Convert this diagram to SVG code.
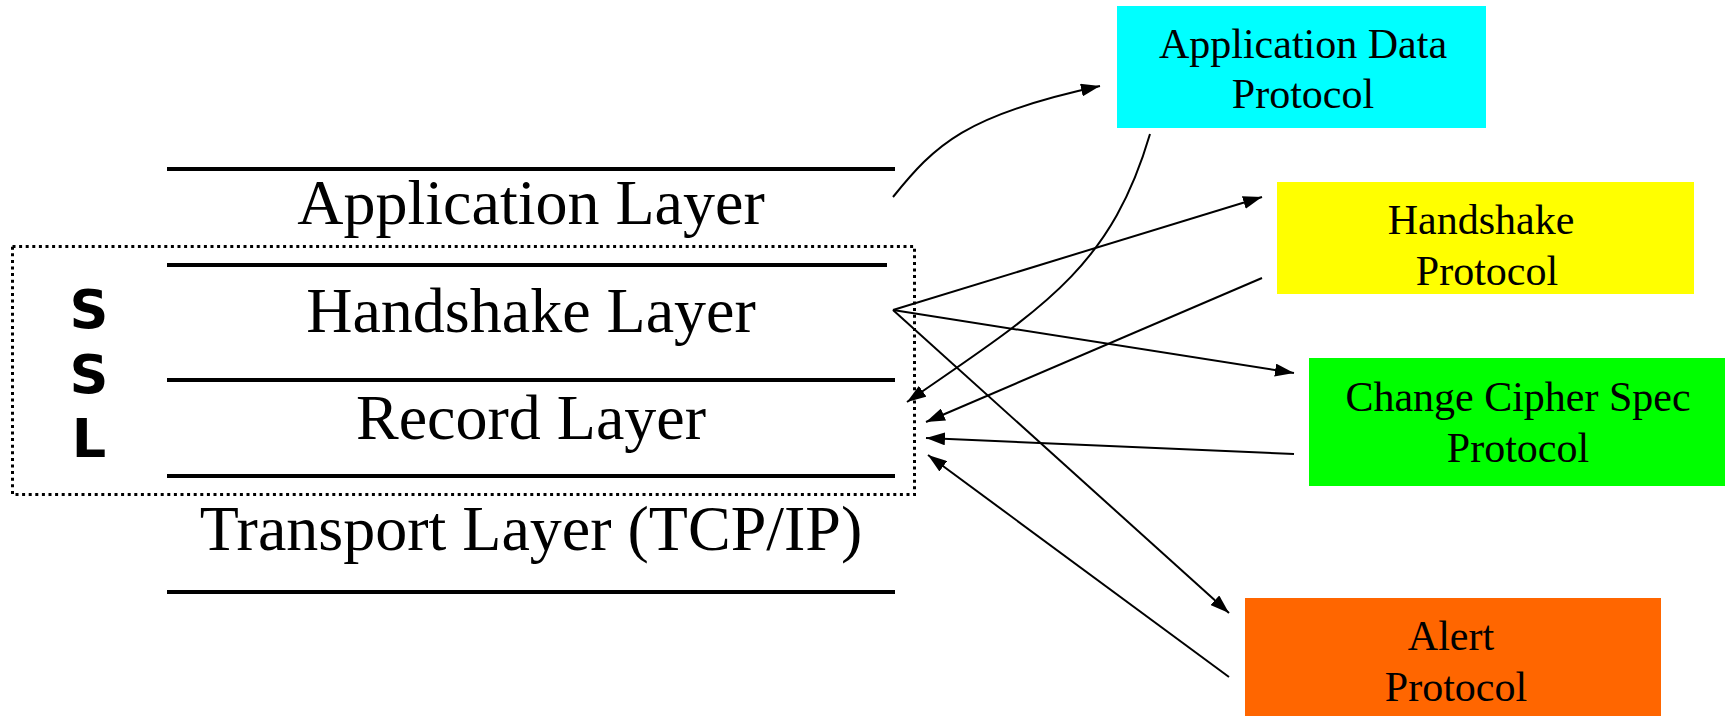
<svg xmlns="http://www.w3.org/2000/svg" width="1729" height="716" viewBox="0 0 1729 716">
<style>
.layer{stroke:#000;stroke-width:4;fill:none}
.big{font-family:"Liberation Serif","Times New Roman",serif;font-size:64px;fill:#000;text-anchor:middle}
.box{font-family:"Liberation Serif","Times New Roman",serif;font-size:42px;fill:#000;text-anchor:middle}
.ssl{font-family:"DejaVu Sans",Verdana,sans-serif;font-weight:bold;font-size:54px;fill:#000;text-anchor:middle}
.conn{stroke:#000;stroke-width:2;fill:none;marker-end:url(#arr)}
</style>
<defs>
<marker id="arr" markerUnits="userSpaceOnUse" markerWidth="19" markerHeight="13" refX="19" refY="6.5" orient="auto">
<path d="M0,0 L19,6.5 L0,13 z" fill="#000"/>
</marker>
</defs>
<rect width="1729" height="716" fill="#fff"/>
<g id="stack">
<line class="layer" x1="167" y1="169" x2="895" y2="169"/>
<line class="layer" x1="167" y1="265" x2="887" y2="265"/>
<line class="layer" x1="167" y1="380" x2="895" y2="380"/>
<line class="layer" x1="167" y1="476" x2="895" y2="476"/>
<line class="layer" x1="167" y1="592" x2="895" y2="592"/>
<rect x="12.5" y="246.5" width="902" height="248" fill="none" stroke="#000" stroke-width="3" stroke-dasharray="3 3.6"/>
</g>
<g id="application-layer"><text class="big" x="531" y="224">Application Layer</text></g>
<g id="handshake-layer"><text class="big" x="531" y="332">Handshake Layer</text></g>
<g id="record-layer"><text class="big" x="531" y="439">Record Layer</text></g>
<g id="transport-layer"><text class="big" x="531" y="550">Transport Layer (TCP/IP)</text></g>
<g id="ssl-label">
<text class="ssl" x="89" y="328">S</text>
<text class="ssl" x="89" y="393">S</text>
<text class="ssl" x="89" y="457">L</text>
</g>
<g id="app-data-protocol">
<rect x="1117" y="6" width="369" height="122" fill="#00FFFF"/>
<text class="box" x="1303" y="58">Application Data</text>
<text class="box" x="1303" y="108">Protocol</text>
</g>
<g id="handshake-protocol">
<rect x="1277" y="182" width="417" height="112" fill="#FFFF00"/>
<text class="box" x="1481" y="234">Handshake</text>
<text class="box" x="1487" y="285">Protocol</text>
</g>
<g id="ccs-protocol">
<rect x="1309" y="358" width="416" height="128" fill="#00FF00"/>
<text class="box" x="1518" y="411">Change Cipher Spec</text>
<text class="box" x="1518" y="462">Protocol</text>
</g>
<g id="alert-protocol">
<rect x="1245" y="598" width="416" height="118" fill="#FF6600"/>
<text class="box" x="1451" y="650">Alert</text>
<text class="box" x="1456" y="701">Protocol</text>
</g>
<g id="connectors">
<path class="conn" d="M893,197 C935,145 965,115 1100,86"/>
<path class="conn" d="M1150,134 C1110,270 1040,310 907,402"/>
<path class="conn" d="M893,310 L1262,197"/>
<path class="conn" d="M893,310 L1294,373"/>
<path class="conn" d="M893,310 L1229,613"/>
<path class="conn" d="M1262,278 L926,422"/>
<path class="conn" d="M1294,454 L926,438"/>
<path class="conn" d="M1229,677 L928,455"/>
</g>
</svg>
